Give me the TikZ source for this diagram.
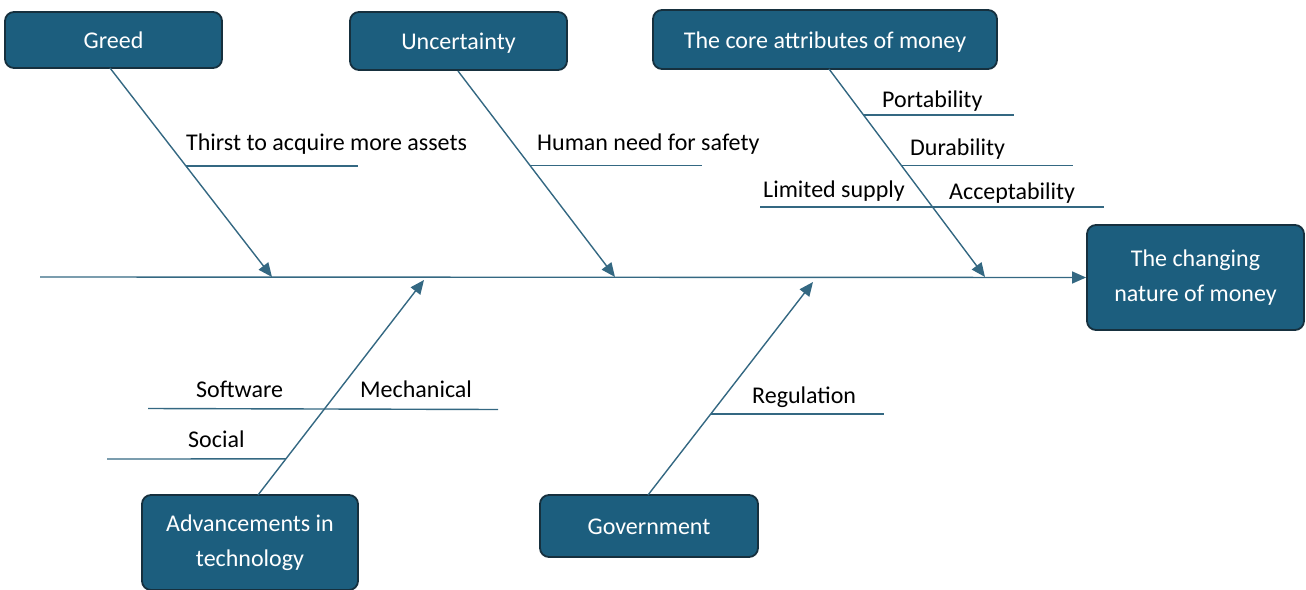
\documentclass[tikz,border=0pt]{standalone}
\usepackage{fontspec}
\setmainfont{Carlito}
\usetikzlibrary{arrows.meta,calc}
\definecolor{boxfill}{RGB}{28,94,126}
\definecolor{boxline}{RGB}{22,48,62}
\definecolor{linec}{RGB}{52,104,130}
\begin{document}
\begin{tikzpicture}[x=1pt,y=-1pt,
  cause/.style={draw=boxline,line width=1.8pt,fill=boxfill,rounded corners=9pt,
    text=white,font=\fontsize{24}{35}\selectfont,align=center,inner sep=0pt},
  oneline/.style={text height=20pt,text depth=3pt},
  bone/.style={draw=linec,line width=1.4pt},
  arr/.style={bone,-{Triangle[length=14pt,width=12pt]}},
  lab/.style={anchor=base west,inner sep=0pt,font=\fontsize{24}{29}\selectfont,text=black}]
\useasboundingbox (0,0) rectangle (1306,589);
% boxes
\node[cause,oneline,minimum width=217pt,minimum height=56pt] (G) at (113.5,40) {Greed};
\node[cause,oneline,minimum width=217pt,minimum height=58pt] (U) at (458.5,41) {Uncertainty};
\node[cause,oneline,minimum width=344pt,minimum height=59pt] (C) at (825,39.5) {The core attributes of money};
\node[cause,minimum width=217pt,minimum height=105pt] (E) at (1195.5,277.5) {The changing\\nature of money};
\node[cause,minimum width=216pt,minimum height=95pt] (A) at (250,542.5) {Advancements in\\technology};
\node[cause,oneline,minimum width=218pt,minimum height=62pt] (V) at (649,526) {Government};
% spine
\coordinate (S0) at (40,277);
\draw[arr] (S0) -- (E.west);
% branch tips
\coordinate (Gt) at (272,277);
\coordinate (Ut) at (615,277);
\coordinate (Ct) at (985,277);
\coordinate (At) at (424,280);
\coordinate (Vt) at (813,282);
\coordinate (Gs) at (110,68);
\coordinate (Us) at (458,71);
\coordinate (Cs) at (829,69);
\coordinate (As) at (258,495);
\coordinate (Vs) at (648,495);
\draw[arr] (Gs) -- (Gt);
\draw[arr] (Us) -- (Ut);
\draw[arr] (Cs) -- (Ct);
\draw[arr] (As) -- (At);
\draw[arr] (Vs) -- (Vt);
% sub-branches
\coordinate (g1) at ($(Gs)!0.469!(Gt)$);
\coordinate (g1e) at (358,0);
\draw[bone] (g1) -- (g1 -| g1e);
\node[lab] (tg1) at (186,150) {Thirst to acquire more assets};
\coordinate (u1) at ($(Us)!0.459!(Ut)$);
\coordinate (u1e) at (702,0);
\draw[bone] (u1) -- (u1 -| u1e);
\node[lab] (tu1) at (537,150) {Human need for safety};
\coordinate (c1) at ($(Cs)!0.222!(Ct)$);
\coordinate (c1e) at (1014,0);
\draw[bone] (c1) -- (c1 -| c1e);
\node[lab] (tc1) at (882,107) {Portability};
\coordinate (c2) at ($(Cs)!0.464!(Ct)$);
\coordinate (c2e) at (1073,0);
\draw[bone] (c2) -- (c2 -| c2e);
\node[lab] (tc2) at (910,155) {Durability};
\coordinate (c3a) at (760,207);
\coordinate (c3b) at (1104,207);
\draw[bone] (c3a) -- (c3b);
\node[lab] (tc3) at (763,197) {Limited supply};
\node[lab] (tc4) at (949,199) {Acceptability};
\coordinate (a1a) at (148,408.5);
\coordinate (a1b) at (498,409.5);
\draw[bone] (a1a) -- (a1b);
\node[lab] (ta1) at (196,397) {Software};
\node[lab] (ta2) at (360,397) {Mechanical};
\coordinate (a2) at ($(As)!0.168!(At)$);
\coordinate (a2s) at (107,459);
\draw[bone] (a2s) -- (a2);
\node[lab] (ta3) at (188,447) {Social};
\coordinate (v1) at ($(Vs)!0.380!(Vt)$);
\coordinate (v1e) at (884,0);
\draw[bone] (v1) -- (v1 -| v1e);
\node[lab] (tv1) at (752,403) {Regulation};
\end{tikzpicture}
\end{document}
